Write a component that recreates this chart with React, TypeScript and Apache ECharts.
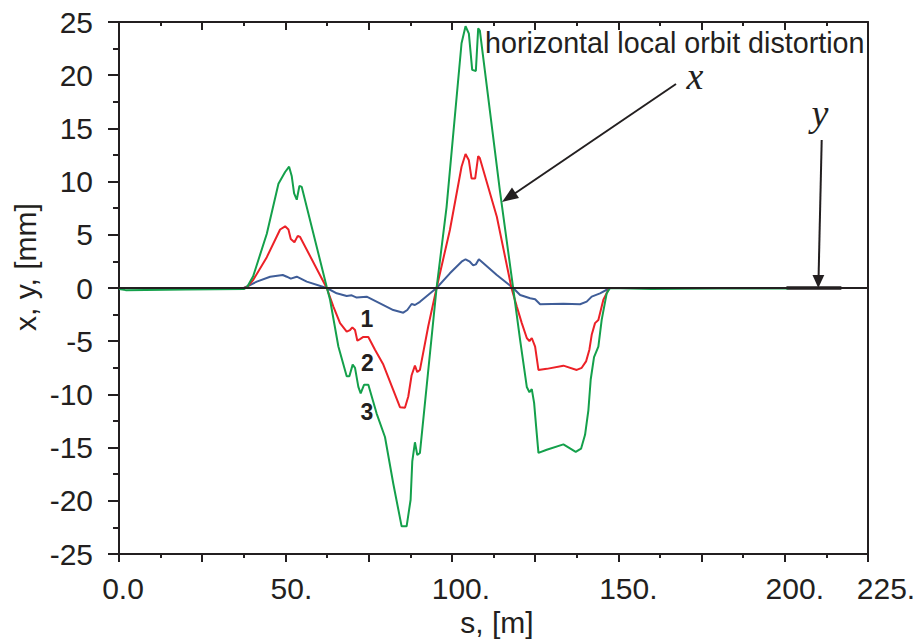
import React, { useEffect, useRef } from "react";
import * as echarts from "echarts";

// ---- data (s in metres, orbit in mm) ----
const blueS = [0, 37.5, 41.4, 45.4, 49.2, 50.4, 51.6, 53.4, 56.4, 62.4, 65.4, 68.4, 69.9, 71.4, 74.4, 78.4, 82.4, 85.4, 86.6, 87.9, 88.9, 90.4, 95.4, 99.4, 102.9, 104.1, 105.4, 106.4, 107.2, 108.1, 113.5, 118.4, 120.5, 123.5, 125.0, 126.5, 133.5, 138.5, 140.5, 142.0, 144.5, 147.5, 200];
const blueV = [0, 0, 0.6, 1.06, 1.22, 1.06, 0.88, 1.06, 0.6, 0, -0.5, -0.75, -0.69, -0.9, -0.82, -1.44, -2.07, -2.32, -2.07, -1.5, -1.6, -1.3, 0, 1.38, 2.47, 2.7, 2.47, 2.13, 2.22, 2.7, 1.22, 0, -0.66, -0.97, -1.06, -1.53, -1.47, -1.53, -1.28, -0.81, -0.5, 0, 0];

const redS = [0, 37.5, 38.5, 40.3, 44.4, 48.4, 49.9, 50.9, 51.6, 52.7, 53.7, 54.4, 62.4, 64.4, 66.4, 68.4, 69.4, 70.1, 70.9, 71.6, 72.4, 73.4, 74.9, 76.9, 79.4, 82.4, 84.4, 85.9, 86.9, 87.9, 88.9, 89.6, 90.4, 92.9, 95.4, 99.4, 102.9, 104.1, 105.1, 105.9, 107.0, 107.9, 108.4, 113.5, 117.9, 119.5, 121.0, 122.5, 123.3, 124.0, 125.0, 126.0, 128.5, 133.5, 137.5, 139.0, 140.3, 141.3, 142.0, 143.0, 144.0, 145.5, 147.3, 200];
const redV = [0, 0, 0.1, 0.75, 2.9, 5.5, 5.8, 5.5, 4.6, 4.3, 4.9, 4.8, 0, -1.75, -3.3, -4.1, -3.95, -3.7, -3.95, -4.95, -4.8, -4.6, -4.6, -5.8, -7.2, -9.6, -11.2, -11.25, -10.2, -8.2, -7.3, -7.9, -7.7, -3.6, 0, 5.45, 11.4, 12.6, 12.0, 10.3, 10.3, 12.4, 12.2, 6.7, 0, -1.75, -3.3, -4.7, -5.0, -4.7, -5.5, -7.7, -7.6, -7.3, -7.7, -7.5, -6.9, -5.8, -4.4, -3.3, -3.0, -1.1, 0, 0];

const greenS = [0, 2, 20, 37.5, 38.5, 40.3, 44.4, 47.9, 49.9, 51.1, 51.9, 52.6, 53.4, 54.2, 54.9, 62.4, 63.4, 65.9, 68.4, 69.2, 70.2, 70.9, 71.9, 72.6, 73.6, 74.9, 77.4, 79.9, 82.4, 84.9, 86.4, 87.6, 88.1, 88.9, 89.6, 90.4, 95.4, 98.4, 102.9, 104.1, 105.1, 106.1, 107.2, 107.9, 108.4, 111.4, 114.4, 118.4, 120.5, 122.5, 123.3, 124.0, 124.7, 125.3, 126.0, 128.5, 133.5, 137.2, 138.8, 140.0, 141.0, 141.7, 142.7, 144.0, 145.0, 146.5, 147.5, 160, 180, 201];
const greenV = [-0.1, -0.2, -0.15, -0.1, 0.1, 1.1, 5.1, 9.8, 10.9, 11.4, 10.5, 8.9, 8.3, 9.6, 9.5, 0.1, -1.1, -5.5, -8.3, -8.3, -7.2, -7.5, -9.3, -9.9, -9.1, -9.1, -11.8, -14.0, -18.4, -22.4, -22.4, -19.9, -16.3, -14.5, -15.7, -15.5, 0, 7.6, 23.0, 24.6, 23.9, 20.5, 20.4, 24.4, 24.2, 16.7, 9.2, 0, -4.9, -9.3, -9.8, -9.5, -10.8, -13.0, -15.5, -15.2, -14.7, -15.4, -15.1, -13.8, -11.5, -8.6, -6.5, -5.5, -3.0, -0.5, 0, -0.1, -0.05, -0.05];

const yOrbitS = [200.5, 217];
const yOrbitV = [0, 0];

const xLabelValues = [0, 50, 100, 150, 200, 225];
const xLabelTexts = ["0.0", "50.", "100.", "150.", "200.", "225."];

const curveNames = ["1", "2", "3"];

// ---- styling ----
const INK = "#231f20";
const FONT = "Liberation Sans, Arial, Helvetica, sans-serif";
const SERIF = "Liberation Serif, Times New Roman, serif";
const BLUE = "#3f5d98";
const RED = "#ec2127";
const GREEN = "#14a04b";
const xLabelShift = [4, 6, 9, 10, 10, 18];

const zip = (a: number[], b: number[]) => a.map((v, i) => [v, b[i]]);

export default function App() {
  const ref = useRef<HTMLDivElement>(null);
  useEffect(() => {
    if (!ref.current) return;
    const chart = echarts.init(ref.current, undefined, { renderer: "svg" });

    const rich: Record<string, any> = {};
    xLabelTexts.forEach((_, i) => {
      rich["l" + i] = {
        fontSize: 30,
        fontFamily: FONT,
        color: INK,
        padding: [0, 0, 0, xLabelShift[i] * 2],
      };
    });

    const axisLineStyle = { color: INK, width: 2 };

    const numLabel = (text: string, x: number, y: number) => ({
      type: "text",
      x,
      y,
      z: 10,
      style: { text, fontSize: 23, fontWeight: "bold", fontFamily: FONT, fill: INK, align: "center", verticalAlign: "middle", lineHeight: 20 },
    });

    const option: any = {
      animation: false,
      backgroundColor: "#ffffff",
      grid: { left: 119, right: 51, top: 22, bottom: 89, containLabel: false },
      xAxis: [
        {
          type: "value",
          min: 0,
          max: 225,
          interval: 25,
          position: "bottom",
          axisLine: { show: true, onZero: false, lineStyle: axisLineStyle },
          axisTick: { show: true, inside: false, length: 8, lineStyle: axisLineStyle },
          minorTick: { show: true, splitNumber: 2, length: 4, lineStyle: axisLineStyle },
          splitLine: { show: false },
          axisLabel: {
            margin: 19,
            fontSize: 30,
            fontFamily: FONT,
            color: INK,
            showMinLabel: true,
            showMaxLabel: true,
            formatter: (v: number) => {
              const i = xLabelValues.findIndex((x) => Math.abs(x - v) < 1e-6);
              return i < 0 ? "" : "{l" + i + "|" + xLabelTexts[i] + "}";
            },
            rich,
          },
        },
        {
          type: "value",
          min: 0,
          max: 225,
          interval: 25,
          position: "top",
          axisLine: { show: true, onZero: false, lineStyle: axisLineStyle },
          axisTick: { show: true, inside: true, length: 8, lineStyle: axisLineStyle },
          minorTick: { show: true, splitNumber: 2, length: 4, lineStyle: axisLineStyle },
          splitLine: { show: false },
          axisLabel: { show: false },
        },
      ],
      yAxis: [
        {
          type: "value",
          min: -25,
          max: 25,
          interval: 5,
          position: "left",
          axisLine: { show: true, onZero: false, lineStyle: axisLineStyle },
          axisTick: { show: true, inside: false, length: 11, lineStyle: axisLineStyle },
          minorTick: { show: true, splitNumber: 2, length: 6, lineStyle: axisLineStyle },
          splitLine: { show: false },
          axisLabel: { margin: 26, fontSize: 30, fontFamily: FONT, color: INK },
        },
        {
          type: "value",
          min: -25,
          max: 25,
          interval: 5,
          position: "right",
          axisLine: { show: true, onZero: false, lineStyle: axisLineStyle },
          axisTick: { show: false },
          splitLine: { show: false },
          axisLabel: { show: false },
        },
      ],
      series: [
        {
          name: "y",
          type: "line",
          data: zip(yOrbitS, yOrbitV),
          symbol: "none",
          lineStyle: { color: INK, width: 3.5 },
          z: 1,
          markLine: {
            silent: true,
            symbol: ["none", "none"],
            label: { show: false },
            lineStyle: { color: INK, width: 2, type: "solid" },
            data: [{ yAxis: 0 }],
          },
        },
        { name: curveNames[0], type: "line", data: zip(blueS, blueV), symbol: "none", lineStyle: { color: BLUE, width: 2 }, z: 2 },
        { name: curveNames[1], type: "line", data: zip(redS, redV), symbol: "none", lineStyle: { color: RED, width: 2 }, z: 3 },
        { name: curveNames[2], type: "line", data: zip(greenS, greenV), symbol: "none", lineStyle: { color: GREEN, width: 2 }, z: 4 },
      ],
      graphic: [
        {
          type: "text",
          x: 485,
          y: 43,
          z: 10,
          style: { text: "horizontal local orbit distortion", fontSize: 28.7, fontFamily: FONT, fill: INK, align: "left", verticalAlign: "middle", lineHeight: 24 },
        },
        {
          type: "text",
          x: 695,
          y: 76,
          z: 10,
          style: { text: "x", fontSize: 38, fontStyle: "italic", fontFamily: SERIF, fill: INK, align: "center", verticalAlign: "middle", lineHeight: 24 },
        },
        {
          type: "text",
          x: 820,
          y: 113,
          z: 10,
          style: { text: "y", fontSize: 38, fontStyle: "italic", fontFamily: SERIF, fill: INK, align: "center", verticalAlign: "middle", lineHeight: 26 },
        },
        { type: "line", z: 10, shape: { x1: 676, y1: 84, x2: 514, y2: 194 }, style: { stroke: INK, lineWidth: 2 } },
        { type: "polygon", z: 10, shape: { points: [[502, 202], [519, 198], [512, 187.5]] }, style: { fill: INK } },
        { type: "line", z: 10, shape: { x1: 821.7, y1: 140, x2: 818.6, y2: 276 }, style: { stroke: INK, lineWidth: 2 } },
        { type: "polygon", z: 10, shape: { points: [[818.3, 288], [812.5, 275], [824.3, 275]] }, style: { fill: INK } },
        numLabel(curveNames[0], 367, 319),
        numLabel(curveNames[1], 367.5, 363),
        numLabel(curveNames[2], 367, 411.5),
        {
          type: "text",
          x: 25,
          y: 267,
          rotation: Math.PI / 2,
          z: 10,
          style: { text: "x, y, [mm]", fontSize: 30, fontFamily: FONT, fill: INK, align: "center", verticalAlign: "middle" },
        },
        {
          type: "text",
          x: 497,
          y: 622,
          z: 10,
          style: { text: "s, [m]", fontSize: 30, fontFamily: FONT, fill: INK, align: "center", verticalAlign: "middle" },
        },
      ],
    };

    chart.setOption(option);
    return () => chart.dispose();
  }, []);

  return (
    <div
      ref={ref}
      style={{ position: "fixed", left: 0, top: 0, width: 919, height: 643, background: "#fff" }}
    />
  );
}
